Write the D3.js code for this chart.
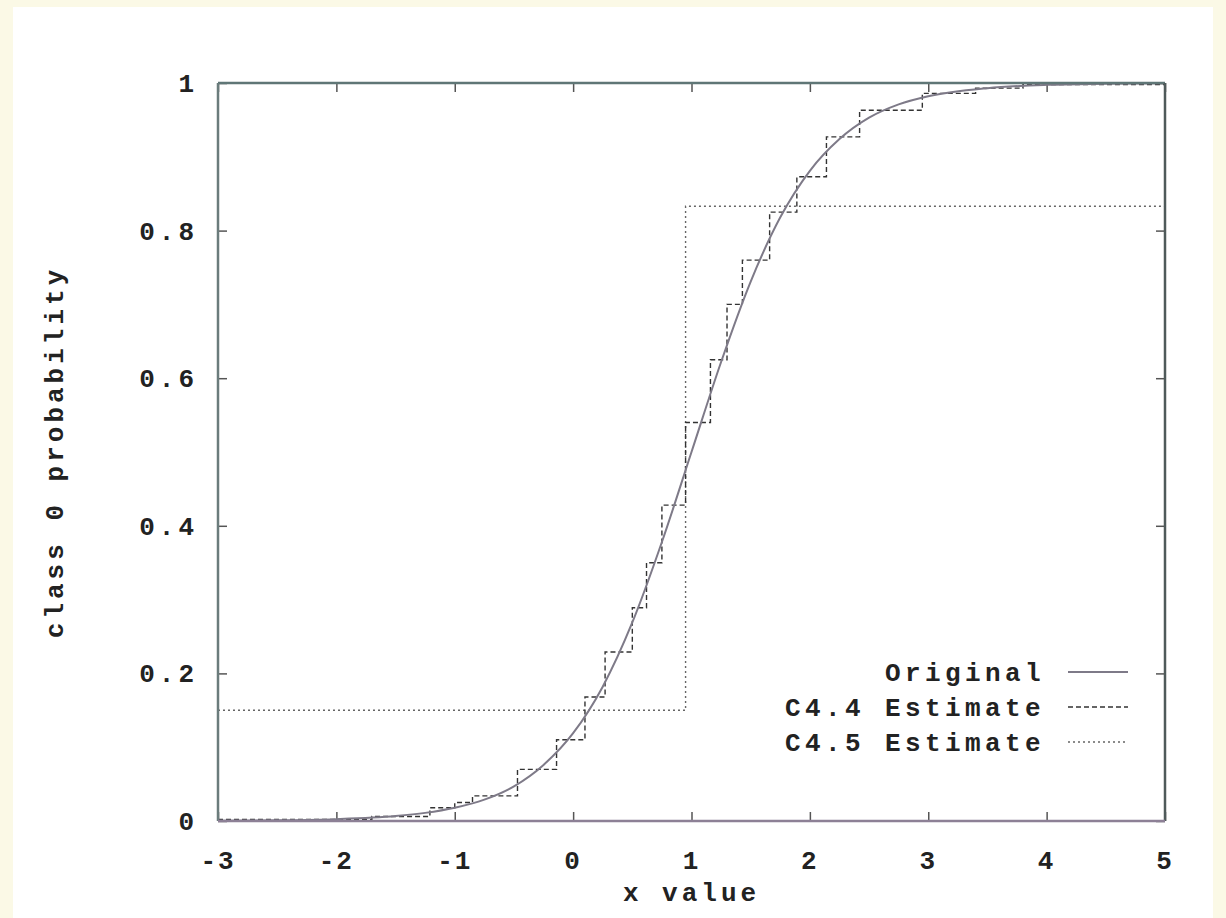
<!DOCTYPE html>
<html>
<head>
<meta charset="utf-8">
<script src="https://cdn.jsdelivr.net/npm/d3@7"></script>
<style>
  body { margin: 0; background: #fbf9e6; }
  #chart { position: absolute; left: 0; top: 0; }
  text { font-family: "Liberation Mono", "DejaVu Sans Mono", monospace; font-weight: bold; fill: #222; }
</style>
</head>
<body>
<div id="chart"></div>
<script>
// original curve
const origX = [-3, -2.5, -2, -1.5, -1.25, -1, -0.75, -0.5, -0.25, 0, 0.25, 0.5, 0.75, 1, 1.25, 1.5, 1.75, 2, 2.25, 2.5, 2.75, 3, 3.5, 4, 4.5, 5];
const origP = [0.0003, 0.0009, 0.0025, 0.0067, 0.011, 0.018, 0.029, 0.047, 0.076, 0.119, 0.182, 0.269, 0.378, 0.5, 0.622, 0.731, 0.818, 0.881, 0.924, 0.953, 0.971, 0.982, 0.993, 0.9975, 0.999, 0.9997];

// C4.4 step estimate (value holds from x until next x)
const c44X = [-3, -1.7, -1.21, -1.0, -0.85, -0.47, -0.14, 0.1, 0.27, 0.5, 0.62, 0.75, 0.95, 1.16, 1.3, 1.43, 1.66, 1.89, 2.14, 2.42, 2.95, 3.4, 3.8, 5];
const c44P = [0.002, 0.006, 0.018, 0.025, 0.034, 0.07, 0.11, 0.168, 0.229, 0.289, 0.35, 0.428, 0.54, 0.625, 0.70, 0.76, 0.825, 0.873, 0.927, 0.963, 0.986, 0.993, 0.998, 0.998];

// C4.5 step estimate
const c45X = [-3, 0.95, 5];
const c45P = [0.15, 0.833, 0.833];

const xTicks = [-3, -2, -1, 0, 1, 2, 3, 4, 5];
const yTicks = [0, 0.2, 0.4, 0.6, 0.8, 1];
const yTickLabels = ["0", "0.2", "0.4", "0.6", "0.8", "1"];

const legendNames = ["Original", "C4.4 Estimate", "C4.5 Estimate"];

var W = 1226, H = 918;
var margin = { top: 83, right: 61, bottom: 97, left: 218 },
  width = W - margin.left - margin.right,
  height = H - margin.top - margin.bottom;

var root = d3.select("#chart")
  .append("svg")
  .attr("width", W)
  .attr("height", H);

// white paper area of the scan
root.append("rect")
  .attr("x", 13).attr("y", 7)
  .attr("width", 1200).attr("height", H - 7)
  .attr("fill", "#ffffff");

var svg = root.append("g")
  .attr("transform", "translate(" + margin.left + "," + margin.top + ")");

var x = d3.scaleLinear().domain([-3, 5]).range([0, width]);
var y = d3.scaleLinear().domain([0, 1]).range([height, 0]);

var tickLen = 9;

// inward ticks on all four sides
svg.append("g")
  .attr("transform", "translate(0," + height + ")")
  .call(d3.axisBottom(x).tickValues(xTicks).tickSize(-tickLen).tickFormat(""))
  .call(g => g.select(".domain").remove())
  .selectAll("line").attr("stroke", "#555").attr("stroke-width", 1.5);
svg.append("g")
  .call(d3.axisTop(x).tickValues(xTicks).tickSize(-tickLen).tickFormat(""))
  .call(g => g.select(".domain").remove())
  .selectAll("line").attr("stroke", "#555").attr("stroke-width", 1.5);
svg.append("g")
  .call(d3.axisLeft(y).tickValues(yTicks).tickSize(-tickLen).tickFormat(""))
  .call(g => g.select(".domain").remove())
  .selectAll("line").attr("stroke", "#555").attr("stroke-width", 1.5);
svg.append("g")
  .attr("transform", "translate(" + width + ",0)")
  .call(d3.axisRight(y).tickValues(yTicks).tickSize(-tickLen).tickFormat(""))
  .call(g => g.select(".domain").remove())
  .selectAll("line").attr("stroke", "#555").attr("stroke-width", 1.5);

// tick labels
svg.append("g").selectAll("text")
  .data(xTicks)
  .join("text")
  .attr("x", d => x(d))
  .attr("y", height + 48)
  .attr("text-anchor", "middle")
  .style("font-size", "26px")
  .style("letter-spacing", "2px")
  .text(d => d);

svg.append("g").selectAll("text")
  .data(yTicks)
  .join("text")
  .attr("x", -20)
  .attr("y", d => y(d) + 9)
  .attr("text-anchor", "end")
  .style("font-size", "26px")
  .style("letter-spacing", "4px")
  .text((d, i) => yTickLabels[i]);

// axis titles
svg.append("text")
  .attr("x", width / 2)
  .attr("y", height + 80)
  .attr("text-anchor", "middle")
  .style("font-size", "26px")
  .style("letter-spacing", "4px")
  .text("x value");

svg.append("text")
  .attr("transform", "translate(" + (-155) + "," + (height / 2) + ") rotate(-90)")
  .attr("text-anchor", "middle")
  .style("font-size", "26px")
  .style("letter-spacing", "4px")
  .text("class 0 probability");

// series
var origLine = d3.line()
  .x(d => x(d[0]))
  .y(d => y(d[1]))
  .curve(d3.curveMonotoneX);

var stepLine = d3.line()
  .x(d => x(d[0]))
  .y(d => y(d[1]))
  .curve(d3.curveStepAfter);

var styles = [
  { color: "#7e7a88", width: 2, dash: null },
  { color: "#333", width: 1.4, dash: "5,3" },
  { color: "#666", width: 1.4, dash: "2,3" }
];

svg.append("path")
  .datum(c45X.map((v, i) => [v, c45P[i]]))
  .attr("d", stepLine)
  .attr("fill", "none")
  .attr("stroke", styles[2].color)
  .attr("stroke-width", styles[2].width)
  .attr("stroke-dasharray", styles[2].dash);

svg.append("path")
  .datum(c44X.map((v, i) => [v, c44P[i]]))
  .attr("d", stepLine)
  .attr("fill", "none")
  .attr("stroke", styles[1].color)
  .attr("stroke-width", styles[1].width)
  .attr("stroke-dasharray", styles[1].dash);

svg.append("path")
  .datum(origX.map((v, i) => [v, origP[i]]))
  .attr("d", origLine)
  .attr("fill", "none")
  .attr("stroke", styles[0].color)
  .attr("stroke-width", styles[0].width);

// frame
svg.append("line").attr("x1", 0).attr("x2", width).attr("y1", 0).attr("y2", 0)
  .attr("stroke", "#5f7676").attr("stroke-width", 2.5);
svg.append("line").attr("x1", 0).attr("x2", 0).attr("y1", 0).attr("y2", height)
  .attr("stroke", "#6b7c7c").attr("stroke-width", 2.5);
svg.append("line").attr("x1", width).attr("x2", width).attr("y1", 0).attr("y2", height)
  .attr("stroke", "#4f5a5a").attr("stroke-width", 2.5);
svg.append("line").attr("x1", 0).attr("x2", width).attr("y1", height).attr("y2", height)
  .attr("stroke", "#8d8096").attr("stroke-width", 2.5);

// legend
var legend = svg.append("g")
  .attr("transform", "translate(" + (width - 120) + "," + (height - 149) + ")");

legendNames.forEach(function (name, i) {
  var row = legend.append("g").attr("transform", "translate(0," + (i * 35) + ")");
  row.append("text")
    .attr("x", 0)
    .attr("y", 9)
    .attr("text-anchor", "end")
    .style("font-size", "26px")
    .style("letter-spacing", "4.4px")
    .text(name);
  row.append("line")
    .attr("x1", 23).attr("x2", 83)
    .attr("y1", 0).attr("y2", 0)
    .attr("stroke", styles[i].color)
    .attr("stroke-width", styles[i].width)
    .attr("stroke-dasharray", styles[i].dash);
});
</script>
</body>
</html>
